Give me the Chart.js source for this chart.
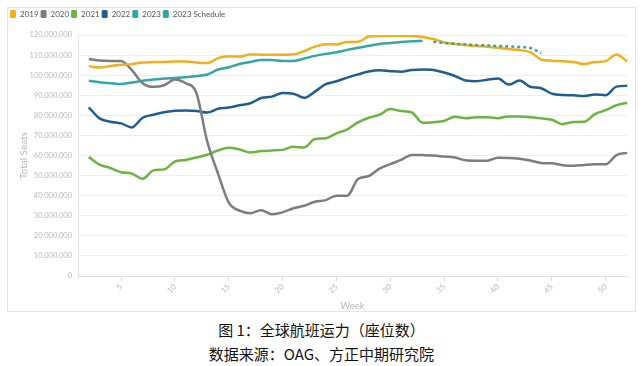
<!DOCTYPE html>
<html>
<head>
<meta charset="utf-8">
<script src="https://cdn.jsdelivr.net/npm/chart.js@4"></script>
<style>
  body { margin: 0; background: #fff; width: 643px; height: 366px; overflow: hidden; position: relative; }
  .panel { position: absolute; left: 7px; top: 7px; width: 629px; height: 305px; border: 1px solid #e4e4e4; box-sizing: border-box; }
  .panel canvas { display: block; }
  .caption { position: absolute; left: 0; width: 643px; text-align: center; font-family: "Noto Sans CJK SC", sans-serif; color: #111; font-size: 15px; line-height: 20px; }
</style>
</head>
<body>
<div class="panel"><canvas id="seatsChart" width="627" height="303"></canvas></div>
<div class="caption" style="top:320px">图 1：全球航班运力（座位数）</div>
<div class="caption" style="top:344px">数据来源：OAG、方正中期研究院</div>

<script>
// Week numbers (x categories)
const weeks = [1, 2, 3, 4, 5, 6, 7, 8, 9, 10, 11, 12, 13, 14, 15, 16, 17, 18, 19, 20,
    21, 22, 23, 24, 25, 26, 27, 28, 29, 30, 31, 32, 33, 34, 35, 36, 37, 38, 39, 40,
    41, 42, 43, 44, 45, 46, 47, 48, 49, 50, 51, 52];

// Total seats, millions (one value per week, week 1 empty)
const seats2019 = [null, 104.5, 103.8, 104.6, 105.2, 105.5, 106.3, 106.5, 106.6, 106.8,
    106.8, 106.3, 106.0, 108.5, 109.4, 109.3, 110.3, 110.2, 110.2, 110.2,
    110.4, 112.0, 114.2, 115.4, 115.3, 116.5, 116.6, 119.2, 119.5, 119.6,
    119.6, 119.5, 119.0, 118.0, 116.3, 115.5, 115.0, 114.5, 114.2, 113.6,
    113.0, 112.5, 111.5, 107.8, 107.2, 106.9, 106.6, 105.5, 106.5, 107.0,
    110.3, 106.8];

const seats2020 = [null, 108.1, 107.3, 107.1, 107.1, 102.5, 96.0, 94.2, 95.0, 97.9,
    96.0, 91.0, 67.0, 51.0, 36.5, 32.5, 31.2, 32.8, 30.8, 31.7,
    33.7, 35.0, 37.0, 37.8, 40.0, 40.0, 48.3, 49.8, 53.5, 55.7,
    57.8, 60.3, 60.2, 60.0, 59.5, 59.0, 57.6, 57.4, 57.4, 58.9,
    58.8, 58.4, 57.5, 56.3, 56.1, 55.2, 54.9, 55.3, 55.6, 55.6,
    60.2, 61.3];

const seats2021 = [null, 59.2, 55.4, 53.8, 51.7, 51.0, 48.4, 52.6, 53.1, 57.0,
    57.8, 59.0, 60.4, 62.5, 63.9, 63.0, 61.5, 62.2, 62.5, 62.8,
    64.3, 64.0, 68.2, 68.6, 71.0, 73.0, 76.5, 78.8, 80.3, 83.1,
    82.1, 81.4, 76.3, 76.6, 77.2, 79.3, 78.5, 79.0, 79.0, 78.6,
    79.4, 79.4, 79.1, 78.5, 77.8, 75.6, 76.7, 76.8, 80.6, 82.6,
    85.0, 86.2];

const seats2022 = [null, 84.0, 78.5, 76.8, 76.0, 74.0, 78.8, 80.3, 81.5, 82.3,
    82.4, 82.2, 81.4, 83.3, 83.9, 85.0, 86.0, 88.6, 89.3, 91.1,
    90.8, 88.7, 91.8, 95.5, 97.0, 98.8, 100.4, 101.8, 102.4, 102.0,
    101.7, 102.6, 102.8, 102.6, 101.3, 99.6, 97.3, 97.0, 97.7, 98.3,
    95.3, 97.3, 94.2, 93.5, 90.8, 90.1, 90.0, 89.6, 90.4, 90.0,
    94.3, 94.7];

const seats2023 = [null, 97.2, 96.5, 96.0, 95.6, 96.3, 97.2, 97.8, 98.3, 98.6,
    99.0, 99.6, 100.3, 102.8, 103.9, 105.6, 106.6, 107.5, 107.6, 107.1,
    107.1, 108.3, 109.6, 110.6, 111.4, 112.6, 113.6, 114.6, 115.5, 116.0,
    116.5, 116.9, 117.1, null, null, null, null, null, null, null,
    null, null, null, null, null, null, null, null, null, null,
    null, null];

const seats2023Schedule = [null, null, null, null, null, null, null, null, null, null,
    null, null, null, null, null, null, null, null, null, null,
    null, null, null, null, null, null, null, null, null, null,
    null, null, null, 116.6, 116.1, 115.6, 115.3, 115.0, 114.8, 114.5,
    114.3, 114.0, 113.5, 111.0, null, null, null, null, null, null,
    null, null];

const yTicks = [0, 10, 20, 30, 40, 50, 60, 70, 80, 90, 100, 110, 120];

const FONT = 'Lato, "Noto Sans", sans-serif';
const AXIS_GREY = '#b9b9b9';

function line(label, data, color, extra) {
    return Object.assign({
        label: label,
        data: data,
        borderColor: color,
        backgroundColor: color,
        borderWidth: 2.5,
        pointRadius: 0,
        cubicInterpolationMode: 'monotone',
        spanGaps: false
    }, extra || {});
}

// Fix the legend height so the plot starts where the original does
const legendSpacer = {
    id: 'legendSpacer',
    beforeInit(chart) {
        const fit = chart.legend.fit;
        chart.legend.fit = function () {
            fit.call(this);
            this.height = 27;
        };
    }
};

new Chart(document.getElementById('seatsChart'), {
    type: 'line',
    data: {
        labels: weeks,
        datasets: [
            line('2019', seats2019, '#F3AE1B'),
            line('2020', seats2020, '#7d7d7d'),
            line('2021', seats2021, '#6db33f'),
            line('2022', seats2022, '#1f5f8e'),
            line('2023', seats2023, '#33a7a4'),
            line('2023 Schedule', seats2023Schedule, '#2ea5a8', { borderDash: [3, 3], order: -1 })
        ]
    },
    options: {
        responsive: false,
        animation: false,
        layout: { padding: { left: 0, right: 6, top: 0, bottom: 0 } },
        plugins: {
            tooltip: { enabled: false },
            legend: {
                position: 'top',
                align: 'start',
                labels: {
                    boxWidth: 6,
                    boxHeight: 8,
                    padding: 2,
                    useBorderRadius: true,
                    borderRadius: 1.5,
                    color: '#555',
                    font: { family: FONT, size: 8 },
                    sort: (a, b) => a.datasetIndex - b.datasetIndex,
                    generateLabels(chart) {
                        return Chart.defaults.plugins.legend.labels.generateLabels(chart).map(item =>
                            Object.assign(item, { lineWidth: 0, lineDash: [], strokeStyle: item.fillStyle }));
                    }
                }
            }
        },
        scales: {
            x: {
                grid: {
                    drawOnChartArea: false,
                    drawTicks: true,
                    tickLength: 5,
                    color: ctx => (weeks[ctx.index] % 5 === 0 ? '#dddddd' : 'rgba(0,0,0,0)')
                },
                border: { color: '#e2e2e2' },
                ticks: {
                    autoSkip: false,
                    maxRotation: 45,
                    minRotation: 45,
                    padding: 1,
                    color: AXIS_GREY,
                    font: { family: FONT, size: 8 },
                    callback: (v, i) => (weeks[i] % 5 === 0 ? String(weeks[i]) : '')
                },
                title: {
                    display: true,
                    text: 'Week',
                    color: AXIS_GREY,
                    font: { family: FONT, size: 9.5 },
                    padding: { top: -2, bottom: -1 }
                },
                afterFit(scale) { scale.height = 35; }
            },
            y: {
                min: 0,
                max: 120,
                grid: { color: '#eeeeee', drawTicks: false },
                border: { color: '#e2e2e2' },
                afterBuildTicks(scale) { scale.ticks = yTicks.map(v => ({ value: v })); },
                ticks: {
                    padding: 6,
                    color: AXIS_GREY,
                    font: { family: FONT, size: 7.5 },
                    callback: v => (v * 1000000).toLocaleString('en-US')
                },
                title: {
                    display: true,
                    text: 'Total Seats',
                    color: AXIS_GREY,
                    font: { family: FONT, size: 10 },
                    padding: { top: 10, bottom: 0 }
                },
                afterFit(scale) { scale.width = 70; }
            }
        }
    },
    plugins: [legendSpacer]
});
</script>
</body>
</html>
